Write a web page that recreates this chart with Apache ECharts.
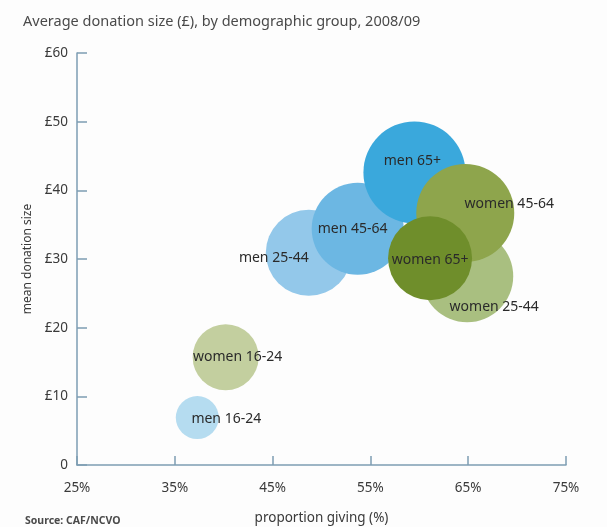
<!DOCTYPE html>
<html>
<head>
<meta charset="utf-8">
<script src="https://cdn.jsdelivr.net/npm/echarts@6/dist/echarts.min.js"></script>
<style>
  html, body { margin: 0; padding: 0; background: #fdfdfd; }
  #main { width: 607px; height: 527px; }
</style>
</head>
<body>
<div id="main"></div>
<script>
var groups = ['men 16-24', 'women 16-24', 'men 25-44', 'men 45-64', 'men 65+', 'women 25-44', 'women 45-64', 'women 65+'];
var proportionGiving = [37.3, 40.2, 48.7, 53.7, 59.5, 64.9, 64.7, 61.1];
var meanDonation = [6.9, 15.7, 30.9, 34.4, 42.6, 27.5, 36.7, 30.1];
var bubbleSize = [43, 66, 86, 92, 102, 92, 98, 84];
var bubbleColors = ['#b5dcf0', '#c3cf9f', '#93c8ea', '#6cb7e3', '#3aa8dc', '#a9bf80', '#8ea54c', '#6f8e2b'];
var labelOffsets = [[29, 1], [12, 0], [-35, 5], [-5, 0], [-2, -11], [27, 31], [44, -9], [0, 2]];

var xTicks = [25, 35, 45, 55, 65, 75];
var yTicks = [0, 10, 20, 30, 40, 50, 60];

var axisColor = '#7d9db3';
var textColor = '#3a3a3a';
var fontFamily = 'Noto Sans';

var chartDom = document.getElementById('main');
var myChart = echarts.init(chartDom);

var points = groups.map(function (name, i) {
  return {
    name: name,
    value: [proportionGiving[i], meanDonation[i], bubbleSize[i]],
    itemStyle: { color: bubbleColors[i], opacity: 1 },
    label: { offset: labelOffsets[i] }
  };
});

var option = {
  backgroundColor: '#fdfdfd',
  textStyle: { fontFamily: fontFamily },
  title: [
    {
      text: 'Average donation size (£), by demographic group, 2008/09',
      left: 18,
      top: 9,
      textStyle: { fontSize: 14.5, fontWeight: 'normal', color: '#4a4a4a', fontFamily: fontFamily }
    },
    {
      text: 'Source: CAF/NCVO',
      left: 20,
      top: 511,
      textStyle: { fontSize: 10.5, fontWeight: 'bold', color: '#4a4a4a', fontFamily: fontFamily }
    }
  ],
  grid: { left: 77, right: 41, top: 53, bottom: 62, outerBoundsMode: 'none' },
  xAxis: {
    type: 'value',
    min: xTicks[0],
    max: xTicks[xTicks.length - 1],
    interval: 10,
    name: 'proportion giving (%)',
    nameLocation: 'middle',
    nameGap: 46,
    nameTextStyle: { fontSize: 13.5, color: textColor },
    splitLine: { show: false },
    axisLine: { lineStyle: { color: axisColor, width: 1.5 } },
    axisTick: { inside: true, length: 9, lineStyle: { color: axisColor, width: 1.5 } },
    axisLabel: {
      margin: 16,
      fontSize: 13.5,
      color: textColor,
      formatter: function (v) { return v + '%'; }
    }
  },
  yAxis: {
    type: 'value',
    min: yTicks[0],
    max: yTicks[yTicks.length - 1],
    interval: 10,
    name: 'mean donation size',
    nameLocation: 'middle',
    nameGap: 40,
    nameRotate: 90,
    nameTextStyle: { fontSize: 12, color: textColor },
    splitLine: { show: false },
    axisLine: { lineStyle: { color: axisColor, width: 1.5 } },
    axisTick: { inside: true, length: 10, lineStyle: { color: axisColor, width: 1.5 } },
    axisLabel: {
      margin: 9,
      fontSize: 13.5,
      color: textColor,
      formatter: function (v) { return v === 0 ? '0' : '£' + v; }
    }
  },
  series: [
    {
      type: 'scatter',
      data: points,
      symbolSize: function (val) { return val[2]; },
      label: {
        show: true,
        position: 'inside',
        formatter: '{b}',
        fontSize: 14,
        color: '#2a2a2a'
      },
      emphasis: { disabled: true }
    }
  ]
};

if (option && typeof option === 'object') {
  myChart.setOption(option);
}
</script>
</body>
</html>
